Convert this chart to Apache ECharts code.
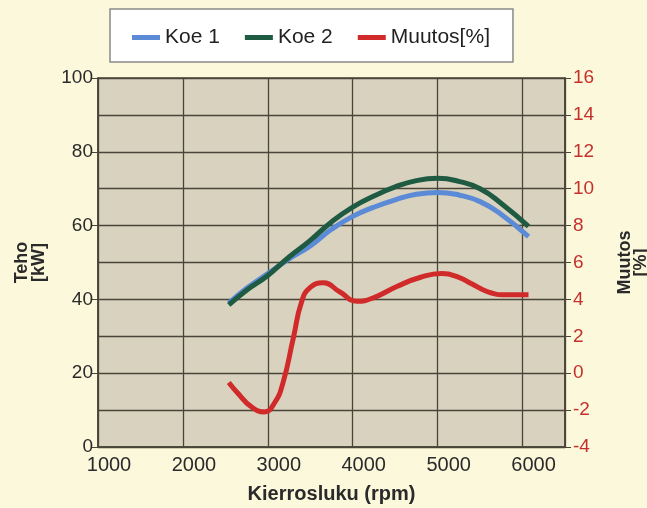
<!DOCTYPE html>
<html><head><meta charset="utf-8">
<script src="https://cdn.jsdelivr.net/npm/echarts@6/dist/echarts.min.js"></script>
<style>html,body{margin:0;padding:0;background:#fbf8dc;}#c{width:647px;height:508px;}</style>
</head><body><div id="c"></div>
<script>
const koe1Rpm = [2540, 2750, 3000, 3250, 3500, 3750, 4000, 4250, 4500, 4750, 5000, 5250, 5500, 5750, 6070];
const koe1 = [39, 43, 47, 51, 54.5, 59, 62.5, 65, 67, 68.5, 69, 68.3, 66.5, 63, 57];
const koe2Rpm = [2540, 2750, 3000, 3250, 3500, 3750, 4000, 4250, 4500, 4750, 5000, 5250, 5500, 5750, 6070];
const koe2 = [38.5, 42.5, 46.5, 51.5, 56, 61, 65, 68, 70.5, 72.2, 72.8, 72, 70, 66, 59.8];
const muutosRpm = [2540, 2650, 2800, 2960, 3080, 3180, 3300, 3400, 3500, 3650, 3850, 4050, 4250, 4520, 4800, 5050, 5250, 5400, 5600, 5800, 6070];
const muutos = [-0.5, -1.1, -1.8, -2.1, -1.6, -0.5, 1.9, 3.9, 4.65, 4.9, 4.4, 3.9, 4.1, 4.7, 5.2, 5.4, 5.2, 4.85, 4.4, 4.25, 4.25];
const seriesNames = ['Koe 1', 'Koe 2', 'Muutos[%]'];
const xTitle = 'Kierrosluku (rpm)';
const leftTitle = 'Teho\n[kW]';
const rightTitle = 'Muutos\n[%]';

const zip = (xs, ys) => xs.map((x, i) => [x, ys[i]]);
const chart = echarts.init(document.getElementById('c'));
const font = 'Liberation Sans, Arial, sans-serif';
const gridColor = '#4a4538';
chart.setOption({
  backgroundColor: '#fbf8dc',
  animation: false,
  legend: {
    top: 9, left: 110,
    backgroundColor: '#ffffff', borderColor: '#8a8a8a', borderWidth: 1.5,
    padding: [18, 23, 14, 22],
    itemWidth: 28, itemHeight: 5, itemGap: 25,
    icon: 'rect',
    textStyle: { fontFamily: font, fontSize: 21, color: '#222' },
    data: seriesNames
  },
  grid: { left: 98, right: 82, top: 78, bottom: 61, show: true, outerBoundsMode: 'none', containLabel: false,
    backgroundColor: '#d8d2bf', borderColor: gridColor, borderWidth: 1.5 },
  xAxis: {
    type: 'value', min: 1000, max: 6500, interval: 1000,
    name: xTitle, nameLocation: 'middle', nameGap: 37,
    nameTextStyle: { fontFamily: font, fontSize: 20, fontWeight: 'bold', color: '#2a2a2a' },
    axisLine: { lineStyle: { color: gridColor, width: 1.5 } },
    axisTick: { show: false },
    axisLabel: { fontFamily: font, fontSize: 20, color: '#2a2a2a', margin: 8, padding: [0, 0, 0, 22],
      formatter: v => (v % 1000 === 0 ? String(v) : '') },
    splitLine: { show: true, lineStyle: { color: gridColor, width: 1.3 } }
  },
  yAxis: [{
    type: 'value', min: 0, max: 100, interval: 20, position: 'left',
    name: leftTitle, nameLocation: 'middle', nameGap: 50, nameRotate: 90,
    nameTextStyle: { fontFamily: font, fontSize: 18, fontWeight: 'bold', color: '#2a2a2a', lineHeight: 17 },
    axisLine: { show: true, lineStyle: { color: gridColor, width: 1.5 } },
    axisTick: { show: true, length: 6, lineStyle: { color: gridColor } },
    axisLabel: { fontFamily: font, fontSize: 19, color: '#2a2a2a', margin: 5 },
    splitLine: { show: false }
  }, {
    type: 'value', min: -4, max: 16, interval: 2, position: 'right',
    name: rightTitle, nameLocation: 'middle', nameGap: 52, nameRotate: 90,
    nameTextStyle: { fontFamily: font, fontSize: 18, fontWeight: 'bold', color: '#2a2a2a', lineHeight: 16 },
    axisLine: { show: true, lineStyle: { color: gridColor, width: 1.5 } },
    axisTick: { show: true, length: 6, lineStyle: { color: gridColor } },
    axisLabel: { fontFamily: font, fontSize: 19, color: '#c4312a', margin: 8 },
    splitLine: { show: true, lineStyle: { color: gridColor, width: 1.3 } }
  }],
  series: [
    { name: seriesNames[0], type: 'line', yAxisIndex: 0, smooth: true, showSymbol: false,
      data: zip(koe1Rpm, koe1), lineStyle: { color: '#5b8ad6', width: 5 }, itemStyle: { color: '#5b8ad6' } },
    { name: seriesNames[1], type: 'line', yAxisIndex: 0, smooth: true, showSymbol: false,
      data: zip(koe2Rpm, koe2), lineStyle: { color: '#1f5a42', width: 5 }, itemStyle: { color: '#1f5a42' } },
    { name: seriesNames[2], type: 'line', yAxisIndex: 1, smooth: true, showSymbol: false,
      data: zip(muutosRpm, muutos), lineStyle: { color: '#d02a2a', width: 5 }, itemStyle: { color: '#d02a2a' } }
  ]
});
</script></body></html>
